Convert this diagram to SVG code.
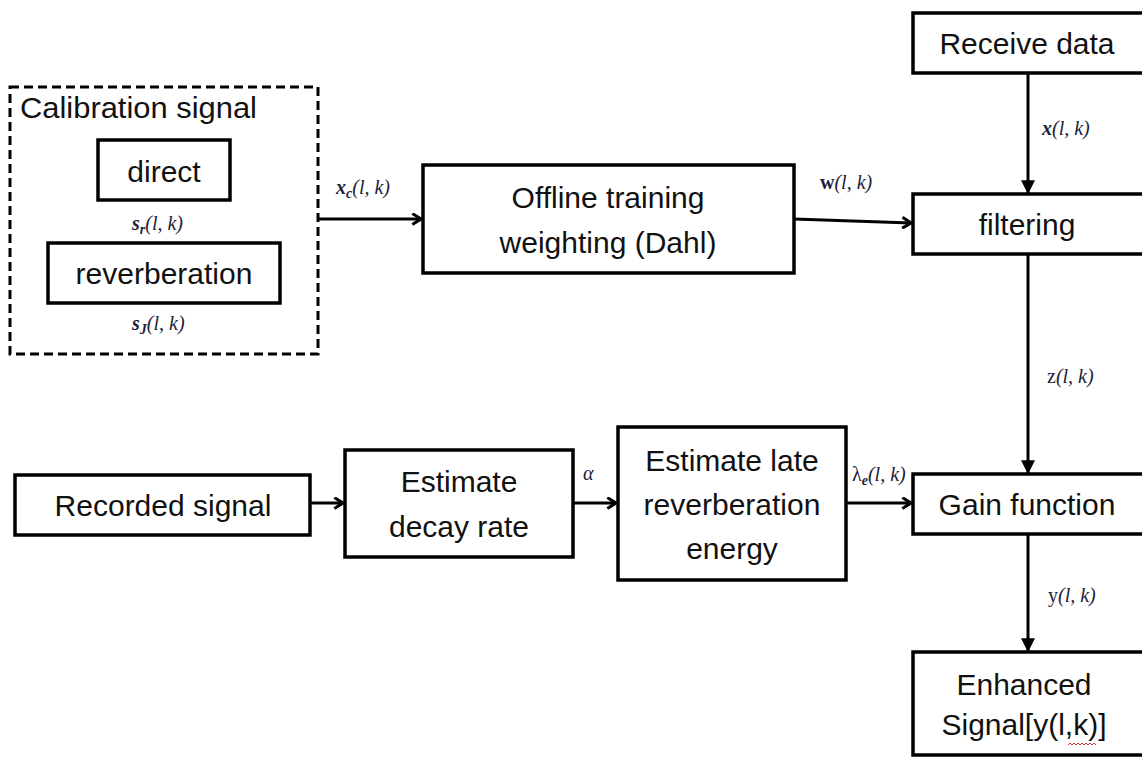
<svg xmlns="http://www.w3.org/2000/svg" width="1142" height="758" viewBox="0 0 1142 758">
<style>
.box{fill:#fff;stroke:#000;stroke-width:3.5}
.dash{fill:none;stroke:#000;stroke-width:3;stroke-dasharray:9 5}
.t{font-family:"Liberation Sans",Arial,sans-serif;font-size:30px;fill:#111;text-anchor:middle}
.lbl{font-family:"Liberation Serif","Times New Roman",serif;font-style:italic;font-size:20px;fill:#1e2238}
.b{font-weight:bold}
.ln{stroke:#000;stroke-width:3;fill:none}
</style>
<defs>
<marker id="chev" viewBox="0 0 12 12" refX="11" refY="6" markerWidth="13" markerHeight="13" markerUnits="userSpaceOnUse" orient="auto">
<path d="M3,1 L11,6 L3,11" fill="none" stroke="#000" stroke-width="2.8"/>
</marker>
<marker id="tri" viewBox="0 0 12 12" refX="11" refY="6" markerWidth="14" markerHeight="14" markerUnits="userSpaceOnUse" orient="auto">
<path d="M0,0 L12,6 L0,12 z" fill="#000"/>
</marker>
</defs>

<g id="calibration">
<rect class="dash" x="10" y="87" width="308" height="267"/>
<text class="t" x="20" y="118" style="text-anchor:start" textLength="237" lengthAdjust="spacingAndGlyphs">Calibration signal</text>
</g>
<g id="direct">
<rect class="box" x="98" y="140" width="132" height="60"/>
<text class="t" x="164" y="182">direct</text>
</g>
<g id="reverberation">
<rect class="box" x="48" y="243" width="232" height="60"/>
<text class="t" x="164" y="284">reverberation</text>
</g>
<g id="offline">
<rect class="box" x="423" y="165" width="371" height="108"/>
<text class="t" x="608" y="208">Offline training</text>
<text class="t" x="608" y="253">weighting (Dahl)</text>
</g>
<g id="receive">
<rect class="box" x="913" y="13" width="235" height="60"/>
<text class="t" x="1027" y="54">Receive data</text>
</g>
<g id="filtering">
<rect class="box" x="913" y="194" width="235" height="60"/>
<text class="t" x="1027" y="235">filtering</text>
</g>
<g id="gain">
<rect class="box" x="913" y="474" width="235" height="60"/>
<text class="t" x="1027" y="515">Gain function</text>
</g>
<g id="enhanced">
<rect class="box" x="913" y="652" width="235" height="103"/>
<text class="t" x="1024" y="695">Enhanced</text>
<text class="t" x="1024" y="735">Signal[y(l,k)]</text>
<path d="M1068,745 l2,-2 l2,2 l2,-2 l2,2 l2,-2 l2,2 l2,-2 l2,2 l2,-2 l2,2 l2,-2 l2,2 l2,-2 l2,2" fill="none" stroke="#e03030" stroke-width="1"/>
</g>
<g id="recorded">
<rect class="box" x="15" y="475" width="295" height="60"/>
<text class="t" x="163" y="516">Recorded signal</text>
</g>
<g id="decay">
<rect class="box" x="345" y="450" width="228" height="107"/>
<text class="t" x="459" y="492">Estimate</text>
<text class="t" x="459" y="537">decay rate</text>
</g>
<g id="late">
<rect class="box" x="618" y="427" width="228" height="153"/>
<text class="t" x="732" y="471">Estimate late</text>
<text class="t" x="732" y="515">reverberation</text>
<text class="t" x="732" y="559">energy</text>
</g>

<g id="connectors">
<line class="ln" x1="318" y1="219" x2="421" y2="219" marker-end="url(#chev)"/>
<line class="ln" x1="794" y1="219" x2="911" y2="223" marker-end="url(#chev)"/>
<line class="ln" x1="1028" y1="73" x2="1028" y2="193" marker-end="url(#tri)"/>
<line class="ln" x1="1028" y1="254" x2="1028" y2="473" marker-end="url(#tri)"/>
<line class="ln" x1="1028" y1="534" x2="1028" y2="651" marker-end="url(#tri)"/>
<line class="ln" x1="310" y1="503" x2="343" y2="503" marker-end="url(#chev)"/>
<line class="ln" x1="573" y1="503" x2="616" y2="503" marker-end="url(#chev)"/>
<line class="ln" x1="846" y1="503" x2="911" y2="503" marker-end="url(#chev)"/>
</g>

<g id="labels">
<text class="lbl b" x="132" y="230">s<tspan font-size="14" dy="4">r</tspan><tspan dy="-4" font-weight="normal">(l, k)</tspan></text>
<text class="lbl b" x="132" y="330">s<tspan font-size="14" dy="4">J</tspan><tspan dy="-4" font-weight="normal">(l, k)</tspan></text>
<text class="lbl" x="336" y="194"><tspan font-weight="bold">x</tspan><tspan font-size="14" dy="4" font-weight="bold">c</tspan><tspan dy="-4">(l, k)</tspan></text>
<text class="lbl" x="820" y="189"><tspan font-weight="bold" font-style="normal">w</tspan>(l, k)</text>
<text class="lbl" x="1042" y="135"><tspan font-weight="bold">x</tspan>(l, k)</text>
<text class="lbl" x="1047" y="383"><tspan font-style="normal">z</tspan>(l, k)</text>
<text class="lbl" x="1048" y="602"><tspan font-style="normal">y</tspan>(l, k)</text>
<text class="lbl" x="583" y="480">α</text>
<text class="lbl" x="852" y="481"><tspan font-style="normal">λ</tspan><tspan font-size="14" dy="4" font-weight="bold">e</tspan><tspan dy="-4">(l, k)</tspan></text>
</g>
</svg>
